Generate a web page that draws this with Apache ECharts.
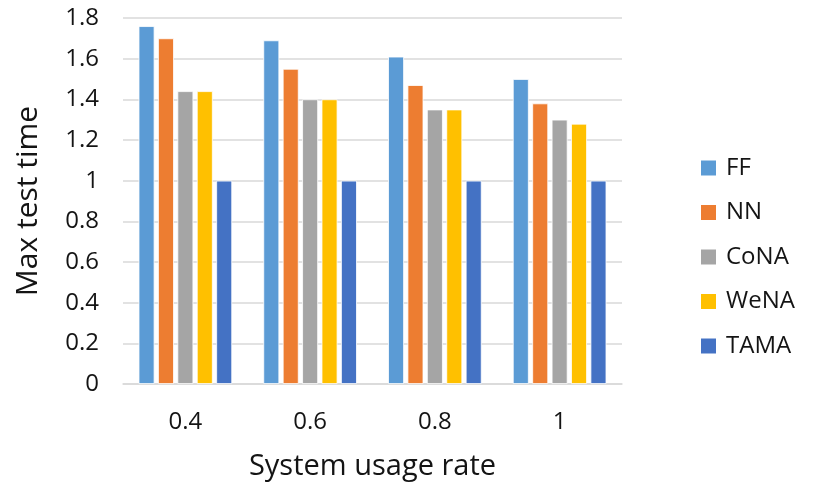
<!DOCTYPE html>
<html>
<head>
<meta charset="utf-8">
<script src="https://cdn.jsdelivr.net/npm/echarts@6/dist/echarts.min.js"></script>
<style>
  html, body { margin: 0; padding: 0; background: #fff; }
  #chart { width: 814px; height: 489px; }
</style>
</head>
<body>
<div id="chart"></div>
<script>
// System usage rate categories
const categories = ['0.4', '0.6', '0.8', '1'];

// Max test time per method
const seriesNames = ['FF', 'NN', 'CoNA', 'WeNA', 'TAMA'];
const ffValues   = [1.76, 1.69, 1.61, 1.50];
const nnValues   = [1.70, 1.55, 1.47, 1.38];
const conaValues = [1.44, 1.40, 1.35, 1.30];
const wenaValues = [1.44, 1.40, 1.35, 1.28];
const tamaValues = [1.00, 1.00, 1.00, 1.00];

const colors = ['#5B9BD5', '#ED7D31', '#A5A5A5', '#FFC000', '#4472C4'];
const allValues = [ffValues, nnValues, conaValues, wenaValues, tamaValues];

const fontFamily = '"Open Sans", "Noto Sans", sans-serif';
const textColor = '#141414';

const chart = echarts.init(document.getElementById('chart'), null, { renderer: 'canvas' });

chart.setOption({
  animation: false,
  backgroundColor: '#ffffff',
  color: colors,
  grid: { left: 123, right: 192, top: 18, bottom: 105, containLabel: false },
  legend: {
    orient: 'vertical',
    left: 694,
    top: 151,
    itemWidth: 17,
    itemHeight: 17,
    itemGap: 20.5,
    icon: 'rect',
    textStyle: { fontFamily, fontSize: 24, color: textColor, padding: [0, 0, 0, 4] },
    data: seriesNames
  },
  xAxis: {
    type: 'category',
    data: categories,
    name: 'System usage rate',
    nameLocation: 'middle',
    nameGap: 68,
    nameTextStyle: { fontFamily, fontSize: 29, color: textColor },
    axisLine: { show: true, lineStyle: { color: '#d9d9d9', width: 1.5 } },
    axisTick: { show: false },
    axisLabel: { fontFamily, fontSize: 24, color: textColor, margin: 26 }
  },
  yAxis: {
    type: 'value',
    min: 0,
    max: 1.8,
    interval: 0.2,
    name: 'Max test time',
    nameLocation: 'middle',
    nameGap: 80,
    nameTextStyle: { fontFamily, fontSize: 30, color: textColor },
    axisLine: { show: false },
    axisTick: { show: false },
    splitLine: { lineStyle: { color: '#d9d9d9', width: 1.5 } },
    axisLabel: {
      fontFamily, fontSize: 24, color: textColor, margin: 24,
      formatter: v => String(Math.round(v * 10) / 10)
    }
  },
  series: seriesNames.map((name, i) => ({
    name,
    type: 'bar',
    data: allValues[i],
    barGap: '22%',
    barCategoryGap: '25%',
    itemStyle: { color: colors[i], borderColor: '#ffffff', borderWidth: 0.8 }
  }))
});
</script>
</body>
</html>
